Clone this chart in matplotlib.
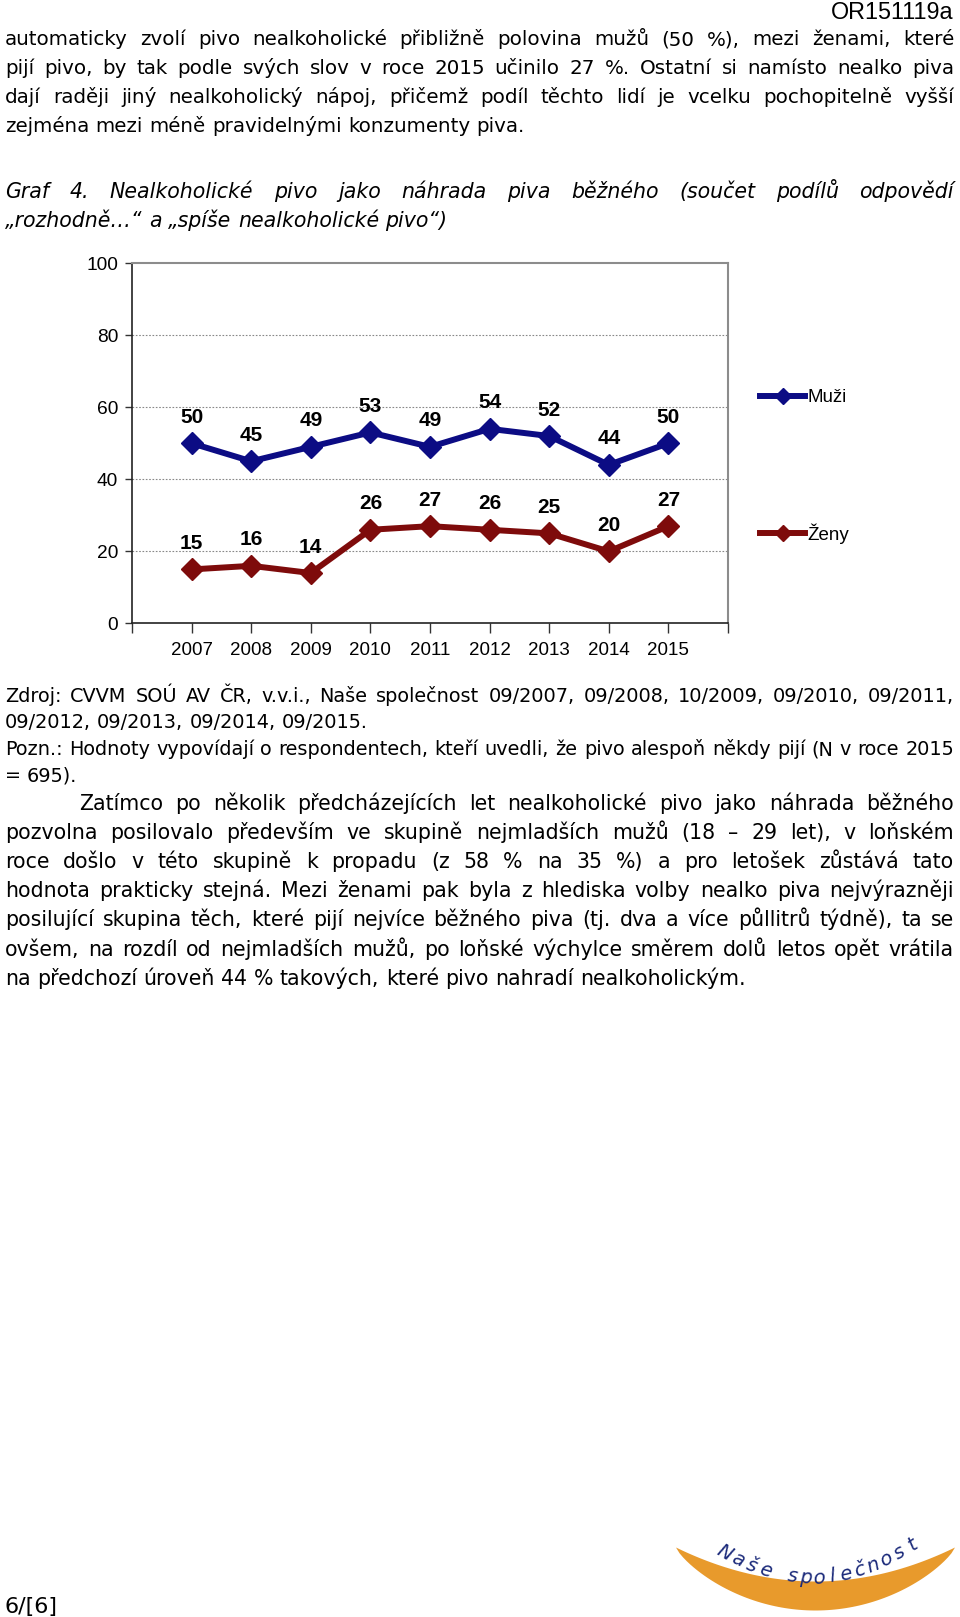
import numpy as np
import matplotlib
matplotlib.use('Agg')
import matplotlib.pyplot as plt
from matplotlib.patches import Polygon

years = ['2007', '2008', '2009', '2010', '2011', '2012', '2013', '2014', '2015']
muzi = [50, 45, 49, 53, 49, 54, 52, 44, 50]
zeny = [15, 16, 14, 26, 27, 26, 25, 20, 27]
yticks = [0, 20, 40, 60, 80, 100]

para1 = [
    'automaticky zvolí pivo nealkoholické přibližně polovina mužů (50 %), mezi ženami, které',
    'pijí pivo, by tak podle svých slov v roce 2015 učinilo 27 %. Ostatní si namísto nealko piva',
    'dají raději jiný nealkoholický nápoj, přičemž podíl těchto lidí je vcelku pochopitelně vyšší',
    'zejména mezi méně pravidelnými konzumenty piva.',
]
caption = [
    'Graf 4. Nealkoholické pivo jako náhrada piva běžného (součet podílů odpovědí',
    '„rozhodně…“ a „spíše nealkoholické pivo“)',
]
source = [
    'Zdroj: CVVM SOÚ AV ČR, v.v.i., Naše společnost 09/2007, 09/2008, 10/2009, 09/2010, 09/2011,',
    '09/2012, 09/2013, 09/2014, 09/2015.',
    'Pozn.: Hodnoty vypovídají o respondentech, kteří uvedli, že pivo alespoň někdy pijí (N v roce 2015',
    '= 695).',
]
para2 = [
    'Zatímco po několik předcházejících let nealkoholické pivo jako náhrada běžného',
    'pozvolna posilovalo především ve skupině nejmladších mužů (18 – 29 let), v loňském',
    'roce došlo v této skupině k propadu (z 58 % na 35 %) a pro letošek zůstává tato',
    'hodnota prakticky stejná. Mezi ženami pak byla z hlediska volby nealko piva nejvýrazněji',
    'posilující skupina těch, které pijí nejvíce běžného piva (tj. dva a více půllitrů týdně), ta se',
    'ovšem, na rozdíl od nejmladších mužů, po loňské výchylce směrem dolů letos opět vrátila',
    'na předchozí úroveň 44 % takových, které pivo nahradí nealkoholickým.',
]

W, H = 960, 1617
fig = plt.figure(figsize=(W / 100, H / 100), dpi=100)
page = fig.add_axes([0, 0, 1, 1])
page.set_xlim(0, W)
page.set_ylim(H, 0)
page.axis('off')
rend = fig.canvas.get_renderer()

BLUE = '#0c0c84'
RED = '#7e0b0b'


def line(s, y, x0=5, x1=954, size=13, justify=True, **kw):
    words = s.split(' ')
    ts = [page.text(0, y, w, fontsize=size, va='baseline', ha='left', **kw) for w in words]
    ws = [t.get_window_extent(rend).width for t in ts]
    a = page.text(0, 0, 'x x', fontsize=size, **kw)
    b = page.text(0, 0, 'xx', fontsize=size, **kw)
    space = a.get_window_extent(rend).width - b.get_window_extent(rend).width
    a.remove()
    b.remove()
    gap = space
    if justify and len(words) > 1:
        gap = (x1 - x0 - sum(ws)) / (len(words) - 1)
        gap = max(gap, space * 0.5)
    x = x0
    for t, w in zip(ts, ws):
        t.set_x(x)
        x += w + gap


def block(lines, y0, step, size, first_indent=5, **kw):
    for i, s in enumerate(lines):
        last = i == len(lines) - 1
        line(s, y0 + i * step, x0=first_indent if i == 0 else 5, size=size,
             justify=not last, **kw)


# header / footer
page.text(954, 19, 'OR151119a', fontsize=16.8, family='Liberation Sans', ha='right', va='baseline')
page.text(5, 1613, '6/[6]', fontsize=16, ha='left', va='baseline')

block(para1, 45, 29.1, 14.3)
block(caption, 198, 29, 14.8, style='italic')
block(source[:2], 702, 26.2, 13.9)
block(source[2:], 755, 26.2, 13.9)
block(para2, 810, 29.1, 14.8, first_indent=79)

# logo
xs = np.linspace(676, 955, 80)
mid = (676 + 955) / 2
half = (955 - 676) / 2
top = 1547.5 + 34 * (1 - ((xs - mid) / half) ** 2)
bot = 1547.5 + 63 * (1 - ((xs - mid) / half) ** 2) ** 0.8
pts = np.column_stack([np.r_[xs, xs[::-1]], np.r_[top, bot[::-1]]])
page.add_patch(Polygon(pts, closed=True, color='#e89a2c', lw=0))
letters = 'Naše společnost'
lx = np.linspace(725, 913, len(letters))
for ch, x in zip(letters, lx):
    if ch == ' ':
        continue
    yy = 1578 - 0.0033 * (x - 812) ** 2
    ang = np.degrees(np.arctan(2 * 0.0033 * (x - 812)))
    page.text(x, yy, ch, fontsize=14, color='#1b2a7a', ha='center', va='center',
              rotation=ang, style='italic', family='DejaVu Sans')

# chart
ax = fig.add_axes([132 / W, 1 - 623.5 / H, (728 - 132) / W, (623.5 - 263) / H])
x = np.arange(len(years))
ax.plot(x, muzi, color=BLUE, lw=4.3, marker='D', ms=11, label='Muži')
ax.plot(x, zeny, color=RED, lw=4.3, marker='D', ms=11, label='Ženy')
for xi, v in zip(x, muzi):
    ax.annotate(str(v), (xi, v), xytext=(0, 26), textcoords='offset pixels', ha='center',
                va='center', fontsize=15, fontweight='bold', family='Liberation Sans')
for xi, v in zip(x, zeny):
    ax.annotate(str(v), (xi, v), xytext=(0, 26), textcoords='offset pixels', ha='center',
                va='center', fontsize=15, fontweight='bold', family='Liberation Sans')
ax.set_xlim(-1, 9)
ax.set_ylim(0, 100)
ax.set_yticks(yticks)
ax.set_yticklabels([str(v) for v in yticks], family='Liberation Sans', fontsize=13.8)
ax.set_xticks(np.arange(-1, 10))
ax.set_xticklabels([''] + years + [''], family='Liberation Sans', fontsize=13.5)
ax.tick_params(axis='y', length=5, width=1, pad=5, color='#333333')
ax.tick_params(axis='x', length=7, width=1, pad=6, color='#333333')
for g in yticks[1:-1]:
    ax.axhline(g, color='#888888', lw=0.8, ls=(0, (1.5, 1.5)), zorder=0)
for s in ['top', 'right']:
    ax.spines[s].set_color('#8c8c8c')
    ax.spines[s].set_linewidth(1.5)
for s in ['left', 'bottom']:
    ax.spines[s].set_color('#222222')
    ax.spines[s].set_linewidth(1.2)
leg = ax.legend(loc='upper left', bbox_to_anchor=(760 / W, 1 - 389 / H), bbox_transform=fig.transFigure,
                frameon=False, prop={'family': 'Liberation Sans', 'size': 13.5}, handlelength=2.4,
                handletextpad=0.15, labelspacing=6.25, borderpad=0, borderaxespad=0, markerscale=0.7)

fig.savefig('out.png', dpi=100)
